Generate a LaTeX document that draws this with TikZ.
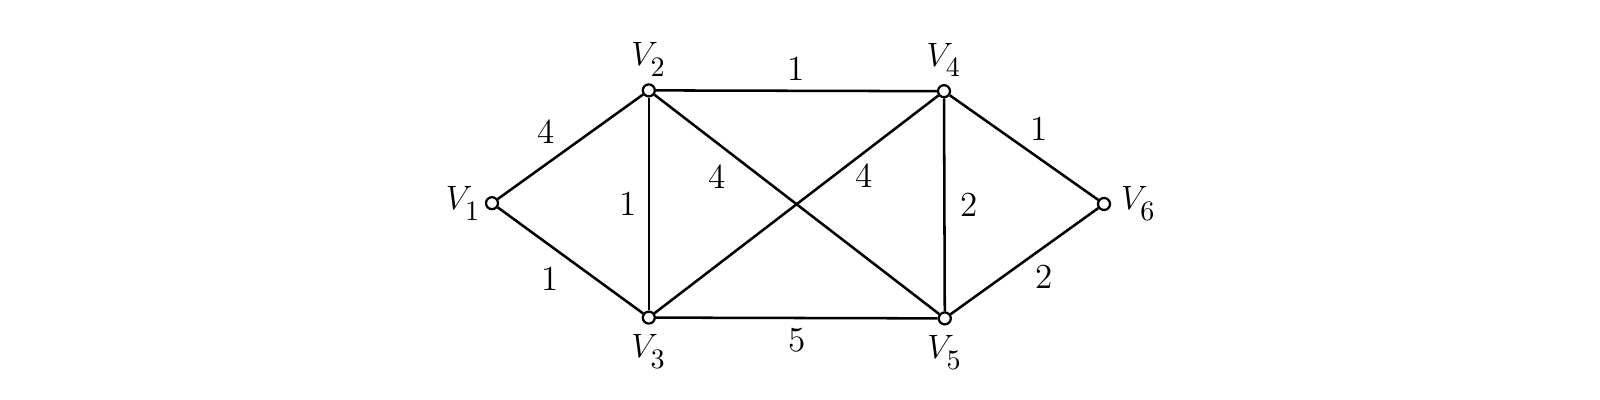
\documentclass[tikz,border=0pt]{standalone}
\usepackage{tikz}
\usetikzlibrary{positioning}
\newcommand{\vtx}[1]{$V_{\raisebox{-2pt}{\fontsize{10}{12}\selectfont #1}}$}
\tikzset{
  vertex/.style={circle, draw=black, line width=0.8pt, fill=white, inner sep=0pt, minimum size=1.5mm},
  vlabel/.style={font=\fontsize{12.5}{15}\selectfont},
  weight/.style={font=\fontsize{12.5}{15}\selectfont},
  edge/.style={line width=0.9pt, draw=black}
}

\begin{document}
\begin{tikzpicture}
\useasboundingbox (0,0) rectangle (20,5);
% vertices
\node[vertex, label={[vlabel, label distance=-2pt]left:\vtx{1}}] (v1) at (6.15,2.46) {};
\node[vertex, label={[vlabel, label distance=-1pt]above:\vtx{2}}] (v2) at (8.11,3.87) {};
\node[vertex, label={[vlabel]below:\vtx{3}}] (v3) at (8.11,1.03) {};
\node[vertex, label={[vlabel, label distance=-1pt]above:\vtx{4}}] (v4) at (11.80,3.86) {};
\node[vertex, label={[vlabel]below:\vtx{5}}] (v5) at (11.81,1.02) {};
\node[vertex, label={[vlabel]right:\vtx{6}}] (v6) at (13.80,2.45) {};
% edges with weights
\draw[edge] (v1) -- node[weight, pos=0.45, above left=-1pt] {4} (v2);
\draw[edge] (v1) -- node[weight, pos=0.48, below left=-1pt] {1} (v3);
\draw[edge] (v2) -- node[weight, midway, left=0.5pt] {1} (v3);
\draw[edge] (v2) -- node[weight, midway, above] {1} (v4);
\draw[edge] (v2) -- node[weight, pos=0.28, below left=-1pt] {4} (v5);
\draw[edge] (v3) -- node[weight, pos=0.7, below right=-4pt] {4} (v4);
\draw[edge] (v3) -- node[weight, midway, below=0pt] {5} (v5);
\draw[edge] (v4) -- node[weight, midway, right=2pt] {2} (v5);
\draw[edge] (v4) -- node[weight, midway, above right=-2pt] {1} (v6);
\draw[edge] (v5) -- node[weight, pos=0.53, below right=-2pt] {2} (v6);
\end{tikzpicture}
\end{document}
